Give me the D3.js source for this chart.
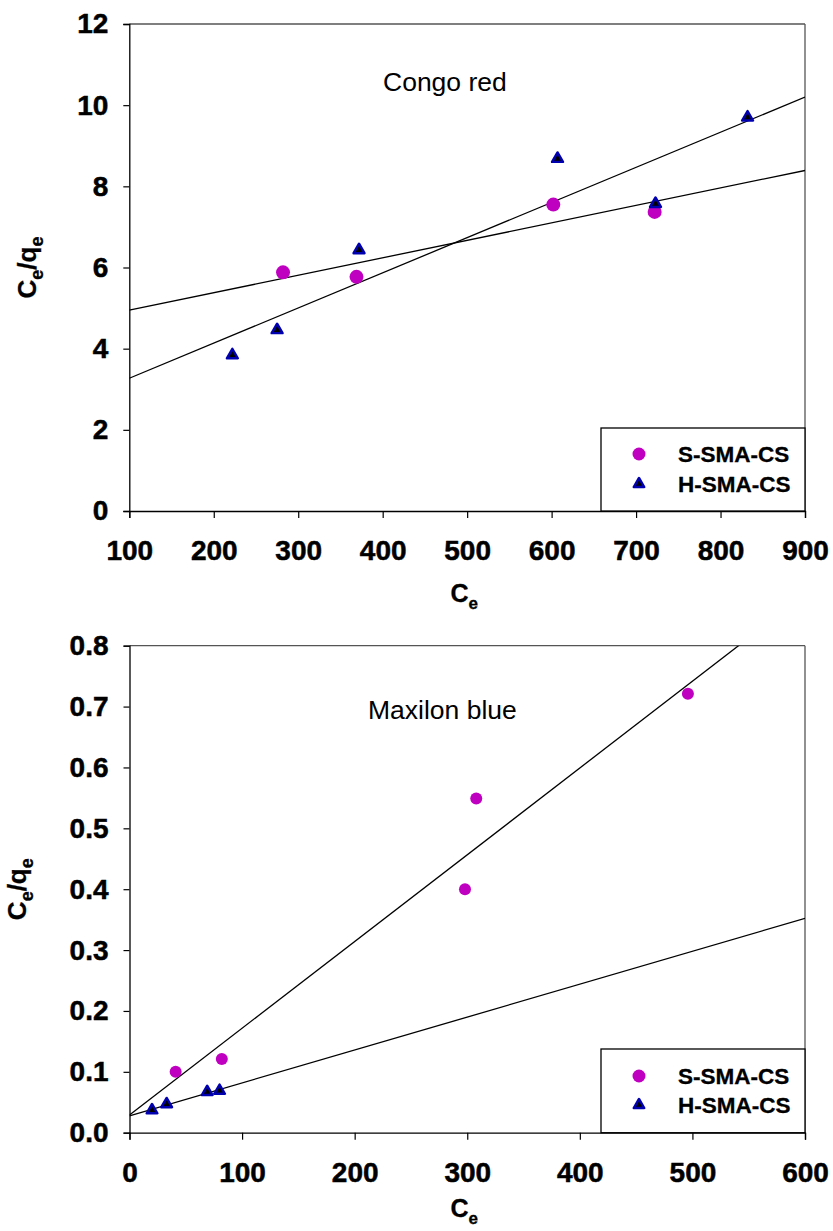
<!DOCTYPE html>
<html>
<head>
<meta charset="utf-8">
<script src="https://cdn.jsdelivr.net/npm/d3@7"></script>
<style>
  html, body { margin: 0; padding: 0; background: #fff; }
  svg { display: block; font-family: "Liberation Sans", Arial, sans-serif; }
</style>
</head>
<body>
<svg id="chart" width="833" height="1231"></svg>
<script>
// ---- Data: Congo red panel ----
const congoXTicks = [100, 200, 300, 400, 500, 600, 700, 800, 900];
const congoYTicks = [0, 2, 4, 6, 8, 10, 12];
const congoS_x = [282, 369, 602, 722];
const congoS_y = [5.88, 5.77, 7.55, 7.37];
const congoH_x = [222, 275, 372, 607, 723, 832];
const congoH_y = [3.84, 4.46, 6.43, 8.68, 7.57, 9.70];

// ---- Data: Maxilon blue panel ----
const maxXTicks = [0, 100, 200, 300, 400, 500, 600];
const maxYTicks = [0.0, 0.1, 0.2, 0.3, 0.4, 0.5, 0.6, 0.7, 0.8];
const maxS_x = [41, 82, 298, 308, 496];
const maxS_y = [0.100, 0.121, 0.400, 0.549, 0.721];
const maxH_x = [20, 33, 69, 80];
const maxH_y = [0.037, 0.047, 0.067, 0.069];

const seriesNames = ["S-SMA-CS", "H-SMA-CS"];

const svg = d3.select("#chart");
const FONT = '"Liberation Sans", Arial, sans-serif';
const MAGENTA = "#c000c0";
const BLUE = "#0000b0";

function linfit(xs, ys) {
  const mx = d3.mean(xs), my = d3.mean(ys);
  let sxy = 0, sxx = 0;
  xs.forEach((x, i) => { sxy += (x - mx) * (ys[i] - my); sxx += (x - mx) * (x - mx); });
  const b = sxy / sxx;
  return { slope: b, intercept: my - b * mx };
}

function panel(cfg) {
  const { left, right, top, bottom, xDomain, yDomain, xTicks, yTicks, yFmt, id } = cfg;
  const x = d3.scaleLinear().domain(xDomain).range([left, right]);
  const y = d3.scaleLinear().domain(yDomain).range([bottom, top]);
  const g = svg.append("g");

  svg.append("clipPath").attr("id", "clip" + id)
    .append("rect").attr("x", left).attr("y", top).attr("width", right - left).attr("height", bottom - top);

  // frame top/right
  g.append("line").attr("x1", left).attr("x2", right).attr("y1", top).attr("y2", top)
    .attr("stroke", "#555").attr("stroke-width", 1.3);
  g.append("line").attr("x1", right).attr("x2", right).attr("y1", top).attr("y2", bottom)
    .attr("stroke", "#555").attr("stroke-width", 1.3);

  // axes
  const xAxis = d3.axisBottom(x).tickValues(xTicks).tickSize(7).tickPadding(22).tickFormat(d3.format("d"));
  const yAxis = d3.axisLeft(y).tickValues(yTicks).tickSize(6).tickPadding(15).tickFormat(yFmt);
  const gx = g.append("g").attr("transform", `translate(0,${bottom})`).call(xAxis);
  const gy = g.append("g").attr("transform", `translate(${left},0)`).call(yAxis);
  [gx, gy].forEach(a => {
    a.select(".domain").attr("stroke", "#000").attr("stroke-width", 1.3);
    a.selectAll(".tick line").attr("stroke", "#000").attr("stroke-width", 1.2);
    a.selectAll(".tick text").attr("fill", "#000").attr("stroke", "#000").attr("stroke-width", 0.5)
      .style("font-family", FONT).style("font-size", "28px").style("font-weight", "bold");
  });

  // regression lines
  const lg = g.append("g").attr("clip-path", `url(#clip${id})`);
  cfg.series.forEach(s => {
    const f = linfit(s.x, s.y);
    lg.append("line")
      .attr("x1", x(xDomain[0])).attr("y1", y(f.intercept + f.slope * xDomain[0]))
      .attr("x2", x(xDomain[1])).attr("y2", y(f.intercept + f.slope * xDomain[1]))
      .attr("stroke", "#000").attr("stroke-width", 1.3);
  });

  // points
  cfg.series.forEach(s => {
    const pts = s.x.map((v, i) => [v, s.y[i]]);
    if (s.shape === "circle") {
      g.append("g").selectAll("circle").data(pts).join("circle")
        .attr("cx", d => x(d[0])).attr("cy", d => y(d[1])).attr("r", cfg.r)
        .attr("fill", MAGENTA);
    } else {
      g.append("g").selectAll("path").data(pts).join("path")
        .attr("d", d3.symbol(d3.symbolTriangle, cfg.triSize))
        .attr("transform", d => `translate(${x(d[0])},${y(d[1])})`)
        .attr("fill", "#000").attr("stroke", BLUE).attr("stroke-width", 2.4)
        .attr("stroke-linejoin", "round");
    }
  });

  // annotation
  g.append("text").attr("x", cfg.noteX).attr("y", cfg.noteY)
    .style("font-family", FONT).style("font-size", "26.5px").text(cfg.note);

  // legend
  const lx0 = cfg.legX0, ly0 = cfg.legY0;
  g.append("rect").attr("x", lx0).attr("y", ly0).attr("width", right - lx0).attr("height", bottom - ly0)
    .attr("fill", "#fff").attr("stroke", "#000").attr("stroke-width", 1.3);
  const rows = [
    { name: seriesNames[0], shape: "circle", cy: ly0 + cfg.legRow1 },
    { name: seriesNames[1], shape: "triangle", cy: ly0 + cfg.legRow2 }
  ];
  rows.forEach(rw => {
    if (rw.shape === "circle") {
      g.append("circle").attr("cx", lx0 + 38).attr("cy", rw.cy).attr("r", 6.5).attr("fill", MAGENTA);
    } else {
      g.append("path").attr("d", d3.symbol(d3.symbolTriangle, 48)())
        .attr("transform", `translate(${lx0 + 38},${rw.cy})`)
        .attr("fill", "#000").attr("stroke", BLUE).attr("stroke-width", 2.4)
        .attr("stroke-linejoin", "round");
    }
    g.append("text").attr("x", lx0 + 77).attr("y", rw.cy + 8)
      .attr("stroke", "#000").attr("stroke-width", 0.3)
      .style("font-family", FONT).style("font-size", "22.5px").style("font-weight", "bold")
      .text(rw.name);
  });

  // axis titles
  const xt = g.append("text").attr("x", (left + right) / 2 - 3).attr("y", cfg.xTitleY)
    .attr("text-anchor", "middle").attr("stroke", "#000").attr("stroke-width", 0.3)
    .style("font-family", FONT).style("font-weight", "bold");
  xt.append("tspan").style("font-size", "25px").text("C");
  xt.append("tspan").style("font-size", "17px").attr("dy", 7).text("e");

  const yt = g.append("text")
    .attr("transform", `translate(${cfg.yTitleX},${(top + bottom) / 2}) rotate(-90)`)
    .attr("text-anchor", "middle").attr("stroke", "#000").attr("stroke-width", 0.3)
    .style("font-family", FONT).style("font-weight", "bold");
  yt.append("tspan").style("font-size", "26px").text("C");
  yt.append("tspan").style("font-size", "18px").attr("dy", 7).text("e");
  yt.append("tspan").style("font-size", "26px").attr("dy", -7).text("/q");
  yt.append("tspan").style("font-size", "18px").attr("dy", 7).text("e");
}

panel({
  id: "a", left: 129.3, right: 805, top: 24, bottom: 511,
  xDomain: [100, 900], yDomain: [0, 12], xTicks: congoXTicks, yTicks: congoYTicks,
  yFmt: d3.format("d"), r: 7, triSize: 52,
  series: [
    { x: congoS_x, y: congoS_y, shape: "circle" },
    { x: congoH_x, y: congoH_y, shape: "triangle" }
  ],
  note: "Congo red", noteX: 383, noteY: 91,
  legX0: 601, legY0: 428, legRow1: 26, legRow2: 56,
  xTitleY: 602, yTitleX: 36
});

panel({
  id: "b", left: 129.5, right: 805, top: 645.7, bottom: 1132.7,
  xDomain: [0, 600], yDomain: [0, 0.8], xTicks: maxXTicks, yTicks: maxYTicks,
  yFmt: d3.format(".1f"), r: 6, triSize: 50,
  series: [
    { x: maxS_x, y: maxS_y, shape: "circle" },
    { x: maxH_x, y: maxH_y, shape: "triangle" }
  ],
  note: "Maxilon blue", noteX: 368, noteY: 719,
  legX0: 601, legY0: 1049, legRow1: 27, legRow2: 56,
  xTitleY: 1217, yTitleX: 26
});
</script>
</body>
</html>
